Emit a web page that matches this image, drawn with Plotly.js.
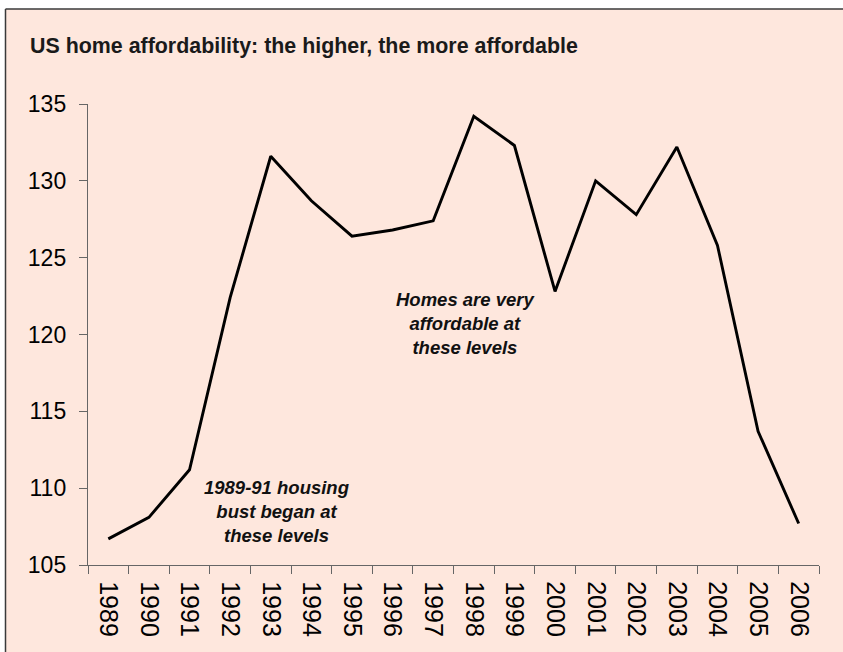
<!DOCTYPE html>
<html>
<head>
<meta charset="utf-8">
<script src="https://cdn.plot.ly/plotly-3.0.1.min.js"></script>
<style>
  html, body { margin: 0; padding: 0; background: #ffffff; }
  #chart { width: 843px; height: 652px; }
</style>
</head>
<body>
<div id="chart"></div>
<script>
// ---- Data ----
const years = ["1989","1990","1991","1992","1993","1994","1995","1996","1997",
               "1998","1999","2000","2001","2002","2003","2004","2005","2006"];
const affordability = [106.7, 108.1, 111.2, 122.4, 131.6, 128.7, 126.4, 126.8, 127.4,
                       134.2, 132.3, 122.8, 130.0, 127.8, 132.2, 125.8, 113.7, 107.7];
const yTicks = [105, 110, 115, 120, 125, 130, 135];

const titleText = "US home affordability: the higher, the more affordable";
const noteHigh = "Homes are very<br>affordable at<br>these levels";
const noteLow = "1989-91 housing<br>bust began at<br>these levels";

const peach = "#FEE7DD";

const trace = {
  type: "scatter",
  mode: "lines",
  x: years,
  y: affordability,
  line: { color: "#000000", width: 2.9 },
  hoverinfo: "x+y",
  showlegend: false
};

const boxLeft = (5.5 - 88) / 731;
const boxTop = (565 - 9) / 461;

const layout = {
  width: 843,
  height: 652,
  margin: { l: 88, r: 24, t: 104, b: 87 },
  paper_bgcolor: "#ffffff",
  plot_bgcolor: "rgba(0,0,0,0)",
  font: { family: "Liberation Sans, Arial, sans-serif", color: "#000000" },
  title: {
    text: "<b>" + titleText + "</b>",
    font: { size: 21.4, family: "Liberation Sans, Arial, sans-serif", color: "#1a1a1a" },
    x: 30 / 843, xanchor: "left",
    y: 1 - 46 / 652, yanchor: "middle"
  },
  xaxis: {
    type: "category",
    tickson: "boundaries",
    ticks: "outside",
    ticklen: 8,
    tickcolor: "#666666",
    tickwidth: 1,
    showline: true,
    linecolor: "#666666",
    linewidth: 1.2,
    showgrid: false,
    zeroline: false,
    tickangle: 90,
    tickfont: { size: 25, family: "Liberation Sans, Arial, sans-serif", color: "#000000" },
    ticklabelstandoff: 10,
    range: [-0.5, years.length - 0.5],
    fixedrange: true
  },
  yaxis: {
    range: [105, 135],
    tickvals: yTicks,
    ticktext: yTicks.map(String),
    ticks: "outside",
    ticklen: 8,
    tickcolor: "#666666",
    tickwidth: 1,
    showline: true,
    linecolor: "#666666",
    linewidth: 1.2,
    showgrid: false,
    zeroline: false,
    tickfont: { size: 23, family: "Liberation Sans, Arial, sans-serif", color: "#000000" },
    ticklabelstandoff: 8,
    fixedrange: true
  },
  shapes: [
    {
      type: "rect",
      xref: "paper", yref: "paper",
      x0: boxLeft, x1: 1.5,
      y0: -0.5, y1: boxTop,
      fillcolor: peach,
      line: { width: 0 },
      layer: "below"
    },
    {
      type: "line",
      xref: "paper", yref: "paper",
      x0: boxLeft, x1: 1.5, y0: boxTop, y1: boxTop,
      line: { color: "#3a3a3a", width: 1.5 },
      layer: "below"
    },
    {
      type: "line",
      xref: "paper", yref: "paper",
      x0: boxLeft, x1: boxLeft, y0: -0.5, y1: boxTop,
      line: { color: "#3a3a3a", width: 1.5 },
      layer: "below"
    }
  ],
  annotations: [
    {
      text: "<b><i>" + noteHigh + "</i></b>",
      x: 8.8, y: 120.7, xref: "x", yref: "y",
      showarrow: false, align: "center",
      font: { size: 18.5, family: "Liberation Sans, Arial, sans-serif", color: "#111111" }
    },
    {
      text: "<b><i>" + noteLow + "</i></b>",
      x: 4.15, y: 108.5, xref: "x", yref: "y",
      showarrow: false, align: "center",
      font: { size: 18.5, family: "Liberation Sans, Arial, sans-serif", color: "#111111" }
    }
  ]
};

Plotly.newPlot("chart", [trace], layout, { displayModeBar: false, staticPlot: true });
</script>
</body>
</html>
